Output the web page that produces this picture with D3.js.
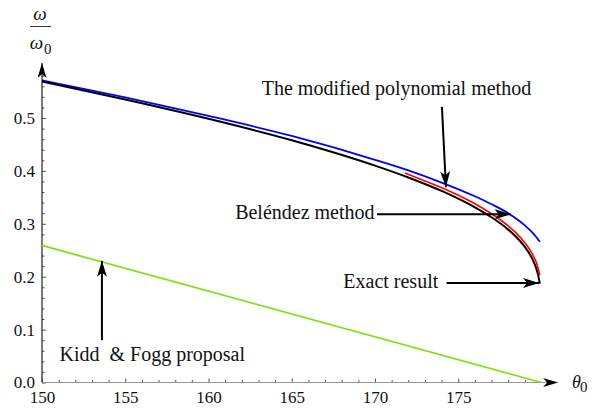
<!DOCTYPE html>
<html>
<head>
<meta charset="utf-8">
<script src="https://cdn.jsdelivr.net/npm/d3@7"></script>
<style>
  html, body { margin: 0; padding: 0; background: #fff; }
  svg { display: block; }
  svg text { font-family: "Liberation Serif", "Times New Roman", "DejaVu Serif", serif !important; }
</style>
</head>
<body>
<svg id="chart" width="593" height="411"></svg>
<script>
(function(){
	'use strict';

	// exact result (black)
	var thetaExact = [150, 155, 160, 165, 170, 172, 174, 175, 176, 177, 178, 178.5, 179, 179.3, 179.5, 179.7, 179.8, 179.9];
	var exactVals  = [0.569, 0.535, 0.4985, 0.458, 0.410, 0.3876, 0.3621, 0.3475, 0.3312, 0.3123, 0.2890, 0.2745, 0.2563, 0.2423, 0.2303, 0.2143, 0.2030, 0.1870];

	// modified polynomial method (blue)
	var thetaPoly = [150, 155, 160, 165, 170, 172, 174, 176, 177, 178, 179, 179.5, 179.9];
	var polyVals  = [0.571, 0.539, 0.504, 0.466, 0.421, 0.401, 0.378, 0.352, 0.337, 0.320, 0.297, 0.282, 0.266];

	// Beléndez method (red)
	var thetaBel = [171.8, 173, 174, 175, 176, 177, 178, 178.5, 179, 179.3, 179.5, 179.7, 179.9];
	var belVals  = [0.396, 0.381, 0.368, 0.354, 0.338, 0.319, 0.296, 0.282, 0.264, 0.251, 0.240, 0.226, 0.203];

	// Kidd & Fogg proposal (green)
	var thetaKF = [150, 180];
	var kfVals  = [0.259, 0];

	var xMajor = [150, 155, 160, 165, 170, 175];
	var yMajor = [0, 0.1, 0.2, 0.3, 0.4, 0.5];

	var svg = d3.select('#chart');

	var x = d3.scaleLinear().domain([150, 180]).range([42, 541.5]);
	var y = d3.scaleLinear().domain([0, 0.5]).range([382.5, 118]);

	var defs = svg.append('defs');
	function arrowMarker(id, len, half){
		defs.append('marker')
			.attr('id', id)
			.attr('markerUnits', 'userSpaceOnUse')
			.attr('viewBox', '0 ' + (-half) + ' ' + len + ' ' + (2 * half))
			.attr('refX', len).attr('refY', 0)
			.attr('markerWidth', len).attr('markerHeight', 2 * half)
			.attr('orient', 'auto')
			.append('path')
			.attr('d', 'M0,' + (-half) + 'L' + len + ',0L0,' + half + 'L4,0Z')
			.attr('fill', '#000');
	}
	arrowMarker('axisHead', 15, 4.5);
	arrowMarker('noteHead', 16, 5);

	// minor ticks
	var xMinor = d3.range(151, 180, 1).filter(function(d){ return xMajor.indexOf(d) < 0; });
	var yMinor = d3.range(0.02, 0.6, 0.02).filter(function(d){ return Math.abs(Math.round(d * 10) - d * 10) > 1e-6; });

	var gx = svg.append('g').attr('transform', 'translate(0,' + y(0) + ')');
	gx.call(d3.axisBottom(x).tickValues(xMinor).tickFormat('').tickSizeInner(-2.5).tickSizeOuter(0));
	gx.select('.domain').remove();
	var gx2 = svg.append('g').attr('transform', 'translate(0,' + y(0) + ')');
	gx2.call(d3.axisBottom(x).tickValues(xMajor).tickFormat(d3.format('d')).tickSizeInner(-4).tickSizeOuter(0).tickPadding(8));
	gx2.select('.domain').remove();

	var gy = svg.append('g').attr('transform', 'translate(' + x(150) + ',0)');
	gy.call(d3.axisLeft(y).tickValues(yMinor).tickFormat('').tickSizeInner(-2.5).tickSizeOuter(0));
	gy.select('.domain').remove();
	var gy2 = svg.append('g').attr('transform', 'translate(' + x(150) + ',0)');
	gy2.call(d3.axisLeft(y).tickValues(yMajor).tickFormat(d3.format('.1f')).tickSizeInner(-4).tickSizeOuter(0).tickPadding(7));
	gy2.select('.domain').remove();

	svg.selectAll('.tick line').attr('stroke', '#555').attr('stroke-width', 1);
	svg.selectAll('.tick text')
		.style('font-size', '17px')
		.attr('fill', '#111');

	// axis lines with arrow heads
	svg.append('line')
		.attr('x1', x(150)).attr('y1', y(0)).attr('x2', x(181)).attr('y2', y(0))
		.attr('stroke', '#999').attr('stroke-width', 1.2)
		.attr('marker-end', 'url(#axisHead)');
	svg.append('line')
		.attr('x1', x(150)).attr('y1', y(0)).attr('x2', x(150)).attr('y2', y(0.604))
		.attr('stroke', '#222').attr('stroke-width', 1.2)
		.attr('marker-end', 'url(#axisHead)');

	// curves
	function series(xs, ys){
		return xs.map(function(d, i){ return [d, ys[i]]; });
	}
	var line = d3.line()
		.x(function(d){ return x(d[0]); })
		.y(function(d){ return y(d[1]); })
		.curve(d3.curveMonotoneX);

	var curves = [
		{ data: series(thetaKF, kfVals), color: '#80e01a', width: 1.8 },
		{ data: series(thetaPoly, polyVals), color: '#0000ff', width: 1.8 },
		{ data: series(thetaExact, exactVals), color: '#000000', width: 2 },
		{ data: series(thetaBel, belVals), color: '#ff0000', width: 1.6 }
	];
	svg.append('g').selectAll('path')
		.data(curves)
		.enter().append('path')
		.attr('d', function(d){ return line(d.data); })
		.attr('fill', 'none')
		.attr('stroke', function(d){ return d.color; })
		.attr('stroke-width', function(d){ return d.width; });

	// annotations (positions in data coordinates)
	var notes = [
		{ text: 'The modified polynomial method', tx: 163.2, ty: 0.543, anchor: 'start', from: [174.02, 0.521], to: [174.26, 0.369] },
		{ text: 'Beléndez method', tx: 161.6, ty: 0.310, anchor: 'start', from: [170.12, 0.318], to: [178.15, 0.318] },
		{ text: 'Exact result', tx: 173.8, ty: 0.178, anchor: 'end', from: [174.3, 0.188], to: [179.85, 0.188] },
		{ text: 'Kidd\u00a0 & Fogg proposal', tx: 151.05, ty: 0.041, anchor: 'start', from: [153.6, 0.080], to: [153.6, 0.230] }
	];
	var gn = svg.append('g');
	notes.forEach(function(n){
		gn.append('line')
			.attr('x1', x(n.from[0])).attr('y1', y(n.from[1]))
			.attr('x2', x(n.to[0])).attr('y2', y(n.to[1]))
			.attr('stroke', '#000').attr('stroke-width', 2)
			.attr('marker-end', 'url(#noteHead)');
		gn.append('text')
			.attr('x', x(n.tx)).attr('y', y(n.ty))
			.attr('text-anchor', n.anchor)
			.style('font-size', '20px')
			.attr('fill', '#111')
			.text(n.text);
	});

	// axis titles
	var yt = svg.append('g').style('font-style', 'italic').attr('fill', '#111');
	yt.append('text').attr('x', 40).attr('y', 20).attr('text-anchor', 'middle').style('font-size', '19px').text('ω');
	yt.append('line').attr('x1', 30).attr('x2', 51).attr('y1', 26.5).attr('y2', 26.5).attr('stroke', '#333').attr('stroke-width', 1);
	yt.append('text').attr('x', 36.5).attr('y', 49).attr('text-anchor', 'middle').style('font-size', '19px').text('ω');
	yt.append('text').attr('x', 44).attr('y', 54).style('font-size', '15px').style('font-style', 'normal').text('0');

	var xt = svg.append('g').attr('fill', '#111');
	xt.append('text').attr('x', 572).attr('y', 388).style('font-size', '18px').style('font-style', 'italic').text('θ');
	xt.append('text').attr('x', 580).attr('y', 392).style('font-size', '15px').text('0');
})();
</script>
</body>
</html>
